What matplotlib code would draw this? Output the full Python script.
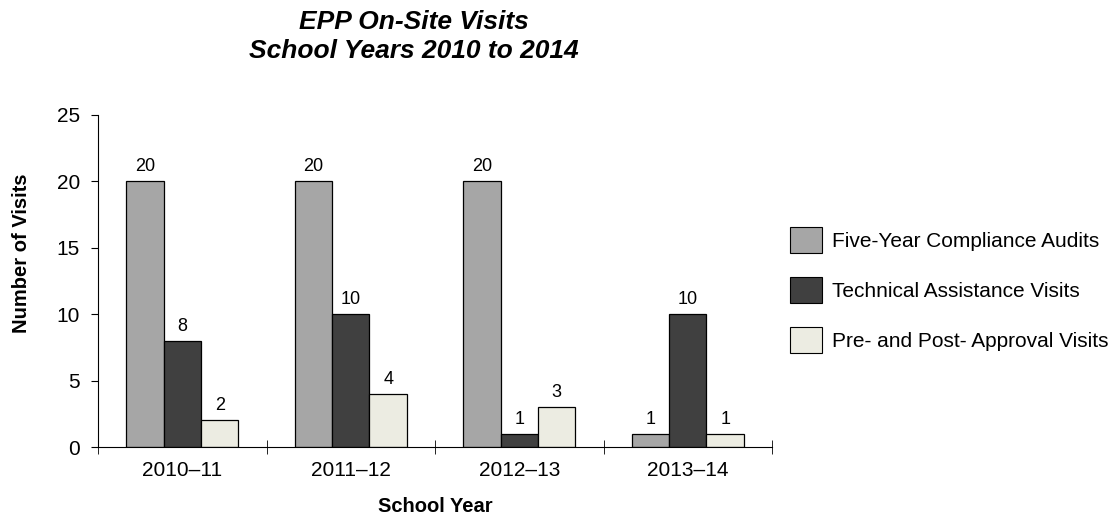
import matplotlib.pyplot as plt
import numpy as np
from matplotlib.patches import Patch

plt.rcParams['font.family'] = ['Liberation Sans', 'DejaVu Sans']

years = ["2010\u201311", "2011\u201312", "2012\u201313", "2013\u201314"]
series = ["Five-Year Compliance Audits", "Technical Assistance Visits",
          "Pre- and Post- Approval Visits"]
audits = [20, 20, 20, 1]
technical = [8, 10, 1, 10]
approval = [2, 4, 3, 1]
colors = ["#a6a6a6", "#404040", "#ececE2"]

fig = plt.figure(figsize=(11.16, 5.18), dpi=100)
# plot area: x 98..772 px, y 115..447 px
ax = fig.add_axes([0.0878, 0.137, 0.604, 0.641])

x = np.arange(len(years))
w = 0.222
for i, (vals, col) in enumerate(zip([audits, technical, approval], colors)):
    bars = ax.bar(x + (i - 1) * w, vals, w, color=col, edgecolor="black",
                  linewidth=0.9)
    for b, v in zip(bars, vals):
        ax.text(b.get_x() + b.get_width() / 2, v + 0.45, str(v),
                ha="center", va="bottom", fontsize=13)

ax.set_xlim(-0.5, 3.5)
ax.set_ylim(0, 25)
ax.set_yticks(range(0, 26, 5))
ax.tick_params(axis="y", labelsize=15, length=5, direction="out", pad=8)
ax.set_xticks(x)
ax.set_xticklabels(years, fontsize=15)
ax.tick_params(axis="x", which="major", length=0, pad=10)
ax.set_xticks(np.arange(-0.5, 3.6, 1), minor=True)
ax.tick_params(axis="x", which="minor", length=10, direction="inout")
for s in ["top", "right"]:
    ax.spines[s].set_visible(False)

ax.set_xlabel("School Year", fontsize=14.5, fontweight="bold", labelpad=12)
ax.set_ylabel("Number of Visits", fontsize=14.5, fontweight="bold",
              va="center")
ax.yaxis.set_label_coords(-0.114, 0.583)
fig.text(0.371, 0.98, "EPP On-Site Visits\nSchool Years 2010 to 2014",
         fontsize=19, fontweight="bold", style="italic", ha="center",
         va="top", linespacing=1.22)

handles = [Patch(facecolor=c, edgecolor="black", linewidth=0.8) for c in colors]
fig.legend(handles, series, loc="center left", bbox_to_anchor=(0.708, 0.44),
           frameon=False, fontsize=15, handlelength=1.54, handleheight=1.54,
           labelspacing=1.16, handletextpad=0.48, borderpad=0,
           borderaxespad=0)

fig.savefig("out.png", dpi=100)
